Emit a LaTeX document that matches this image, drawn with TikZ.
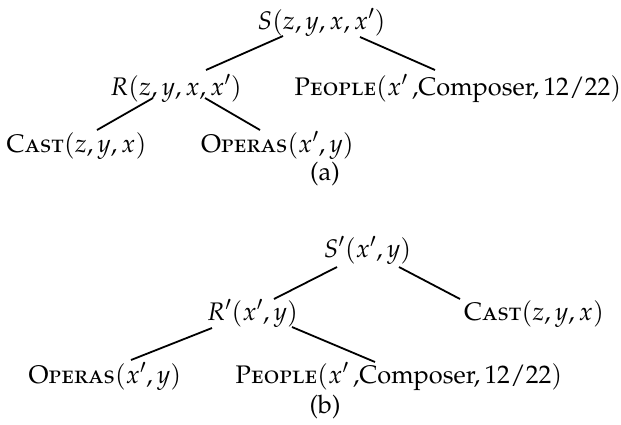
\documentclass[tikz,border=0pt]{standalone}
\usepackage[T1]{fontenc}
\usepackage[sc]{mathpazo}
\begin{document}
\begin{tikzpicture}[x=1pt,y=-1pt,
  lbl/.style={inner sep=0pt,anchor=base,font=\fontsize{25.4}{30}\selectfont},
  edge/.style={line width=1.8pt}]
\useasboundingbox (0,0) rectangle (621,424);
% tree (a)
\node[lbl] (S) at (321.5,29) {$S(z,y,x,x')$};
\node[lbl] (R) at (176,95) {$R(z,y,x,x')$};
\node[lbl] (Pa) at (458,95) {\textsc{People}$(x'\,$,Composer,$\,12/22)$};
\node[lbl] (Ca) at (76.5,152) {\textsc{Cast}$(z,y,x)$};
\node[lbl] (Oa) at (277.5,152) {\textsc{Operas}$(x',y)$};
\node[lbl] (la) at (325,180) {(a)};
\coordinate (S1) at (283,36); \coordinate (R0) at (206,70);
\coordinate (S2) at (360,37); \coordinate (Pa0) at (435,70);
\coordinate (R1) at (153,98); \coordinate (Ca0) at (97,130);
\coordinate (R2) at (205,98); \coordinate (Oa0) at (260,130);
\draw[edge] (S1) -- (R0);
\draw[edge] (S2) -- (Pa0);
\draw[edge] (R1) -- (Ca0);
\draw[edge] (R2) -- (Oa0);
% tree (b)
\node[lbl] (Sp) at (367.5,257) {$S'(x',y)$};
\node[lbl] (Rp) at (252.5,320) {$R'(x',y)$};
\node[lbl] (Cb) at (534,320) {\textsc{Cast}$(z,y,x)$};
\node[lbl] (Ob) at (105,383) {\textsc{Operas}$(x',y)$};
\node[lbl] (Pb) at (399,383) {\textsc{People}$(x'\,$,Composer,$\,12/22)$};
\node[lbl] (lb) at (325,413) {(b)};
\coordinate (Sp1) at (337,267); \coordinate (Rp0) at (274,299);
\coordinate (Sp2) at (399,267); \coordinate (Cb0) at (460,299);
\coordinate (Rp1) at (212,328); \coordinate (Ob0) at (131,360);
\coordinate (Rp2) at (292,327); \coordinate (Pb0) at (375,362);
\draw[edge] (Sp1) -- (Rp0);
\draw[edge] (Sp2) -- (Cb0);
\draw[edge] (Rp1) -- (Ob0);
\draw[edge] (Rp2) -- (Pb0);
\end{tikzpicture}
\end{document}
